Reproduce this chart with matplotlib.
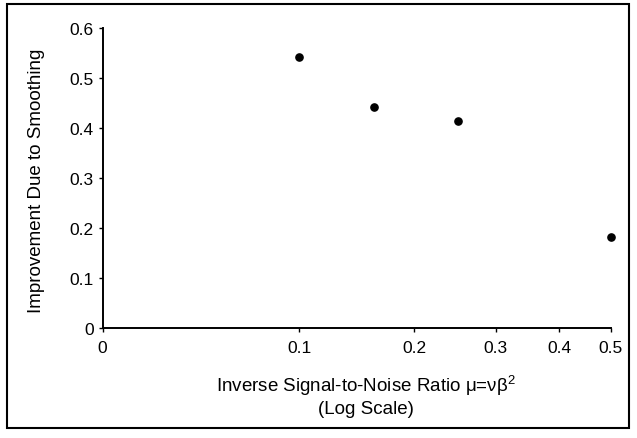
import numpy as np
import matplotlib
matplotlib.use('Agg')
import matplotlib.pyplot as plt
from matplotlib.patches import Rectangle

plt.rcParams['font.family'] = ['Liberation Sans', 'DejaVu Sans']
plt.rcParams['mathtext.fontset'] = 'custom'
plt.rcParams['mathtext.rm'] = 'Liberation Sans'
plt.rcParams['mathtext.default'] = 'regular'

# data
snr_inv = [0.1, 0.16, 0.25, 0.5]
improvement = [0.543, 0.443, 0.415, 0.182]

xticks = [0, 0.1, 0.2, 0.3, 0.4, 0.5]
xtick_labels = ['0', '0.1', '0.2', '0.3', '0.4', '0.5']
yticks = [0, 0.1, 0.2, 0.3, 0.4, 0.5, 0.6]
ytick_labels = ['0', '0.1', '0.2', '0.3', '0.4', '0.5', '0.6']

# "log scale" axis that still shows 0: log(mu + 0.1)
off = 0.1
def fwd(x):
    return np.log(np.asarray(x) + off)
def inv(y):
    return np.exp(y) - off

fig = plt.figure(figsize=(6.37, 4.39), dpi=100)
ax = fig.add_axes([0.1612, 0.2506, 0.9587 - 0.1612, 0.9333 - 0.2506])

ax.plot(snr_inv, improvement, 'o', color='black', markersize=5.2, clip_on=False)

ax.set_xscale('function', functions=(fwd, inv))
ax.set_xlim(0, 0.5)
ax.set_ylim(0, 0.6)
ax.set_xticks(xticks)
ax.set_xticklabels(xtick_labels)
ax.set_yticks(yticks)
ax.set_yticklabels(ytick_labels)
ax.minorticks_off()

for s in ['top', 'right']:
    ax.spines[s].set_visible(False)
for s in ['left', 'bottom']:
    ax.spines[s].set_linewidth(1.4)

ax.tick_params(axis='both', direction='out', length=3, width=1.0,
               labelsize=12.5, colors='black')
ax.tick_params(axis='y', pad=3.5)
ax.tick_params(axis='x', pad=5.5)

fig.text(37 / 637, 1 - 181 / 439, 'Improvement Due to Smoothing', rotation=90,
         ha='center', va='center', fontsize=13.5)
fig.text(366 / 637, 1 - 396 / 439,
         'Inverse Signal-to-Noise Ratio μ=νβ$^2$\n(Log Scale)',
         ha='center', va='center', multialignment='center',
         fontsize=13.5, linespacing=1.2)

# outer frame of the scanned figure
fig.patches.append(Rectangle((7 / 637, 1 - 429 / 439), 629 / 637 - 7 / 637,
                             (429 - 5) / 439, transform=fig.transFigure,
                             fill=False, edgecolor='black', linewidth=1.5))

fig.savefig('out.png', dpi=100)
